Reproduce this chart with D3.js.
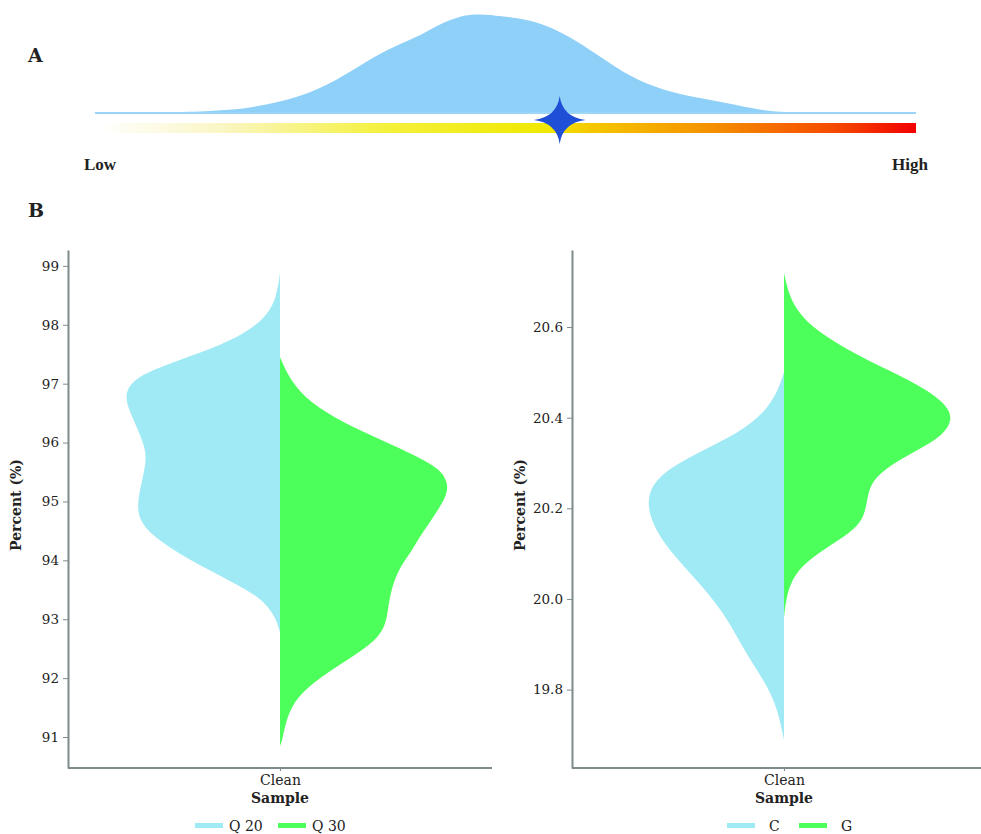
<!DOCTYPE html>
<html>
<head>
  <meta charset="utf-8">
  <title>Quality distribution</title>
  <script src="https://cdn.jsdelivr.net/npm/d3@7"></script>
  <style>
    body { margin: 0; background: #fff; }
    text { font-family: "DejaVu Serif", serif; fill: #222; }
    .tick line, .domain { stroke: #7d8b8c; }
    .domain { stroke-width: 2; }
  </style>
</head>
<body>
<svg width="981" height="834"></svg>
<script>
// panel A: density along the low -> high scale (position, relative density)
const densityA = [
  [0, 0], [0.151, 0.01], [0.203, 0.07], [0.25, 0.16], [0.295, 0.33], [0.334, 0.54],
  [0.364, 0.67], [0.391, 0.76], [0.417, 0.89], [0.447, 0.99], [0.47, 1.0], [0.493, 0.98],
  [0.531, 0.94], [0.554, 0.87], [0.585, 0.74], [0.615, 0.57], [0.653, 0.36], [0.691, 0.23],
  [0.737, 0.15], [0.782, 0.08], [0.821, 0.01], [0.873, 0], [1, 0]
];
const starPos = 0.566;
const gradientStops = [
  [0, "#ffffff"], [0.15, "#faf6c4"], [0.35, "#f5f13c"], [0.55, "#f0e800"],
  [0.6, "#f5c800"], [0.75, "#f59000"], [0.9, "#f54a00"], [1, "#f20000"]
];

// panel B: half violins (value, relative density)
const category = ["Clean"];
const q20 = [
  [98.88, 0], [98.47, 0.02], [98.13, 0.08], [97.79, 0.24], [97.52, 0.48], [97.29, 0.71],
  [97.07, 0.88], [96.78, 0.93], [96.44, 0.88], [96.05, 0.82], [95.76, 0.79], [95.37, 0.82],
  [94.98, 0.85], [94.69, 0.84], [94.41, 0.76], [94.02, 0.55], [93.63, 0.28], [93.34, 0.10],
  [93.0, 0.02], [92.77, 0]
];
const q30 = [
  [97.45, 0], [97.06, 0.06], [96.67, 0.18], [96.33, 0.38], [96.05, 0.60], [95.76, 0.82],
  [95.54, 0.96], [95.25, 1.01], [94.98, 0.97], [94.64, 0.89], [94.35, 0.82], [94.18, 0.79],
  [93.84, 0.70], [93.38, 0.65], [93.04, 0.64], [92.70, 0.60], [92.36, 0.43], [92.02, 0.24],
  [91.68, 0.10], [91.34, 0.04], [90.90, 0.01], [90.85, 0]
];
const gC = [
  [20.50, 0], [20.455, 0.04], [20.41, 0.12], [20.366, 0.27], [20.329, 0.48], [20.291, 0.67],
  [20.256, 0.78], [20.212, 0.82], [20.152, 0.77], [20.093, 0.65], [20.026, 0.48], [19.954, 0.33],
  [19.887, 0.24], [19.821, 0.12], [19.762, 0.04], [19.689, 0]
];
const gG = [
  [20.719, 0], [20.653, 0.04], [20.6, 0.16], [20.549, 0.38], [20.505, 0.62], [20.461, 0.86],
  [20.417, 1.0], [20.379, 0.99], [20.344, 0.88], [20.307, 0.68], [20.269, 0.54], [20.234, 0.50],
  [20.203, 0.49], [20.168, 0.46], [20.137, 0.36], [20.101, 0.20], [20.064, 0.08], [20.02, 0.02],
  [19.96, 0]
];
const leftTicks = [91, 92, 93, 94, 95, 96, 97, 98, 99];
const rightTicks = [19.8, 20.0, 20.2, 20.4, 20.6];
const leftLegend = ["Q 20", "Q 30"];
const rightLegend = ["C", "G"];

const blue = "#a0eaf5", green = "#4dff5a";
const svg = d3.select('svg');

// ---- A ----
const ax = d3.scaleLinear().domain([0, 1]).range([95, 916]);
const ay = d3.scaleLinear().domain([0, 1]).range([113, 14]);

svg.append('text').attr('x', 28).attr('y', 62)
  .style('font-weight', 'bold').style('font-size', '19px').text('A');

svg.append('path').datum(densityA)
  .attr('fill', '#8fd0f8')
  .attr('d', d3.area().curve(d3.curveBasis)
    .x(d => ax(d[0])).y0(ay(0)).y1(d => ay(d[1])));
svg.append('line')
  .attr('x1', ax(0)).attr('x2', ax(1)).attr('y1', ay(0)).attr('y2', ay(0))
  .attr('stroke', '#9bd6f8').attr('stroke-width', 2);

const grad = svg.append('defs').append('linearGradient').attr('id', 'heat');
grad.selectAll('stop').data(gradientStops).enter().append('stop')
  .attr('offset', d => d[0]).attr('stop-color', d => d[1]);
svg.append('rect')
  .attr('x', ax(0.006)).attr('y', 123).attr('width', ax(1) - ax(0.006)).attr('height', 10)
  .attr('fill', 'url(#heat)');

const star4 = {
  draw(ctx, size) {
    const r = Math.sqrt(size), k = 0.12 * r;
    ctx.moveTo(0, -r);
    ctx.quadraticCurveTo(k, -k, r * 1.08, 0);
    ctx.quadraticCurveTo(k, k, 0, r);
    ctx.quadraticCurveTo(-k, k, -r * 1.08, 0);
    ctx.quadraticCurveTo(-k, -k, 0, -r);
    ctx.closePath();
  }
};
svg.append('path')
  .attr('d', d3.symbol().type(star4).size(24 * 24)())
  .attr('transform', `translate(${ax(starPos)},120)`)
  .attr('fill', '#1f4fd6');

svg.append('text').attr('x', 84).attr('y', 170)
  .style('font-family', '"Liberation Serif", serif').style('font-weight', 'bold')
  .style('font-size', '17px').text('Low');
svg.append('text').attr('x', 928).attr('y', 170).attr('text-anchor', 'end')
  .style('font-family', '"Liberation Serif", serif').style('font-weight', 'bold')
  .style('font-size', '17px').text('High');

svg.append('text').attr('x', 28).attr('y', 217)
  .style('font-weight', 'bold').style('font-size', '19px').text('B');

// ---- B ----
const wScale = d3.scaleLinear().domain([0, 1]).range([0, 168]);

function panel(x0, yDomain, ticks, fmt, leftData, rightData) {
  const y = d3.scaleLinear().domain(yDomain).range([768, 250]);
  const x = d3.scalePoint().domain(category).range([x0, x0 + 424]).padding(0.5);
  const g = svg.append('g');
  const xc = x("Clean");

  g.append('path').datum(leftData).attr('fill', blue)
    .attr('d', d3.area().curve(d3.curveBasis)
      .y(d => y(d[0])).x0(xc).x1(d => xc - wScale(d[1])));
  g.append('path').datum(rightData).attr('fill', green)
    .attr('d', d3.area().curve(d3.curveBasis)
      .y(d => y(d[0])).x0(xc).x1(d => xc + wScale(d[1])));

  const yAxis = g.append('g').attr('transform', `translate(${x0},0)`)
    .call(d3.axisLeft(y).tickValues(ticks).tickFormat(d3.format(fmt))
      .tickSize(5).tickSizeOuter(0).tickPadding(4));
  yAxis.selectAll('text').style('font-size', '13.5px').style('font-family', '"DejaVu Serif", serif');

  const xAxis = g.append('g').attr('transform', 'translate(0,768)')
    .call(d3.axisBottom(x).tickSize(3).tickSizeOuter(0).tickPadding(4));
  xAxis.select('.domain').attr('d', `M${x0},0H${x0 + 424}`);
  xAxis.selectAll('text').style('font-size', '14px').style('font-family', '"DejaVu Serif", serif');

  g.append('text').attr('x', xc).attr('y', 803).attr('text-anchor', 'middle')
    .style('font-weight', 'bold').style('font-size', '14px').text('Sample');
  g.append('text')
    .attr('transform', `translate(${x0 - 47},505) rotate(-90)`)
    .attr('text-anchor', 'middle')
    .style('font-weight', 'bold').style('font-size', '14px').text('Percent (%)');
  return g;
}

panel(68, [90.474, 99.27], leftTicks, "d", q20, q30);
panel(572, [19.627, 20.77], rightTicks, ".1f", gC, gG);

function legend(items, xs, colors) {
  const lg = svg.append('g');
  const it = lg.selectAll('g').data(items).enter().append('g')
    .attr('transform', (d, i) => `translate(${xs[i]},0)`);
  it.append('rect').attr('x', 0).attr('y', 823).attr('width', 28).attr('height', 5)
    .attr('fill', (d, i) => colors[i]);
  it.append('text').attr('x', (d, i) => d.length > 1 ? 34 : 42).attr('y', 831)
    .style('font-size', '14px').text(d => d);
}
legend(leftLegend, [195, 278], [blue, green]);
legend(rightLegend, [727, 799], [blue, green]);
</script>
</body>
</html>
